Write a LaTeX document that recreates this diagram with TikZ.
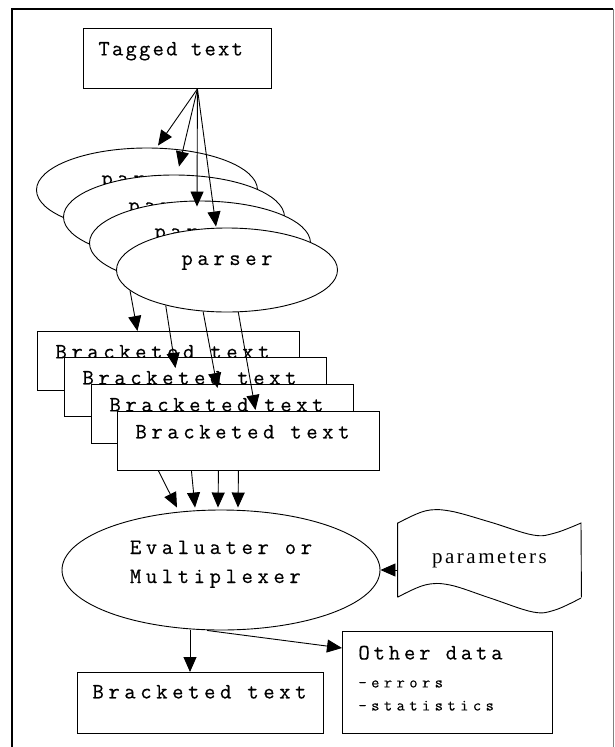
\documentclass[tikz,border=0pt]{standalone}
\usepackage{fontspec}
\newfontfamily\courfont[FakeBold=0.4]{Latin Modern Mono}
\newfontfamily\romfont{Liberation Serif}
\usetikzlibrary{shapes.geometric,arrows.meta,positioning,calc}

\begin{document}
\begin{tikzpicture}[x=1pt, y=-1pt, line width=0.9pt, >={Triangle[length=15pt,width=13pt]}]
\tikzstyle{parser}=[ellipse, draw, fill=white, minimum width=221pt, minimum height=84pt, inner sep=0pt,
  text height=10pt, text depth=20pt, font=\courfont\fontsize{22}{24}\selectfont\addfontfeature{LetterSpace=21}]
\tikzstyle{brbox}=[rectangle, draw, fill=white, anchor=north west, minimum height=59pt, inner xsep=18pt, inner ysep=0pt,
  text width=226pt, text badly ragged, text height=27pt, text depth=32pt, font=\courfont\fontsize{22}{24}\selectfont\addfontfeature{LetterSpace=21}]
\tikzstyle{tagbox}=[brbox, inner xsep=15pt, text width=158pt, text depth=33pt, font=\courfont\fontsize{22}{24}\selectfont\addfontfeature{LetterSpace=10}]
\newcommand\smallmono{\fontsize{16}{28}\selectfont\addfontfeature{LetterSpace=28}}

\useasboundingbox (0,0) rectangle (614,747);
% frame
\draw[line width=1.5pt] (12,747) -- (12,9) -- (613,9);
\draw[gray] (613,9) -- (613,747);

\node[tagbox] (tag) at (83,28) {Tagged text};

% stacked parsers
\node[parser] (p1) at (147,190) {parser};
\node[parser] (p2) at (174,217) {parser};
\node[parser] (p3) at (200,243) {parser};
\node[parser] (p4) at (227,270) {parser};

\path[->] ([xshift=20pt]tag.south)
    edge ([xshift=11pt,yshift=2pt]p1.north)
    edge ([xshift=5pt,yshift=8pt]p2.north)
    edge ([xshift=-3pt,yshift=-6pt]p3.north)
    edge ([xshift=-11pt,yshift=1pt]p4.north);

% bracketed texts
\node[brbox] (b1) at (37,331)  {Bracketed text};
\node[brbox] (b2) at (64,357)  {Bracketed text};
\node[brbox] (b3) at (91,384)  {Bracketed text};
\node[brbox] (b4) at (117,411) {Bracketed text};

\path[->] (p4.192) edge ([xshift=-31pt]b1.north);
\path[->] (p4.210) edge ([xshift=-20pt,yshift=-11pt]b2.north);
\path[->] (p4.240) edge ([xshift=-5pt,yshift=-4pt]b3.north);
\path[->] (p4.285) edge ([xshift=7pt,yshift=1pt]b4.north);

% evaluater
\node[ellipse, draw, minimum width=318pt, minimum height=120pt, inner sep=0pt, align=left,
  text height=43pt, text depth=17pt, font=\courfont\fontsize{22}{29}\selectfont\addfontfeature{LetterSpace=21}]
  (eval) at (221,570) {Evaluater or\\Multiplexer};

\path[->] ([xshift=-90pt]b4.south) edge ([xshift=-44pt,yshift=2pt]eval.north);
\path[->] ([xshift=-57pt]b4.south) edge ([xshift=-26pt,yshift=2pt]eval.north);
\path[->] ([xshift=-30pt]b4.south) edge ([xshift=-3pt,yshift=2pt]eval.north);
\path[->] ([xshift=-10pt]b4.south) edge ([xshift=17pt,yshift=2pt]eval.north);

% parameters
\node[minimum width=183pt, minimum height=74pt, inner sep=0pt, text height=10pt, text depth=4pt,
  font=\romfont\fontsize{21}{24}\selectfont\addfontfeature{LetterSpace=12}] (prm) at (489.5,560) {parameters};
\draw (prm.south west) -- (prm.north west)
  plot[smooth, tension=0.6] coordinates {(398,523) (425,511) (450,511) (490,522) (533,535) (555,533) (581,523)}
  -- (prm.south east)
  plot[smooth, tension=0.6] coordinates {(581,598) (555,610) (533,612) (490,598) (450,585) (425,585) (398,597)};

\path[->] ([yshift=-10pt]prm.west) edge (eval.east);

% outputs
\node[brbox, minimum height=61pt, inner xsep=15pt, text width=216pt, text height=26pt, text depth=35pt]
  (out) at (77,672) {Bracketed text};
\node[brbox, inner xsep=16pt, text width=178pt, text height=28pt, text depth=74pt,
  font=\courfont\fontsize{22}{28}\selectfont\addfontfeature{LetterSpace=17.5}]
  (other) at (342,631) {Other data\\{\smallmono -errors}\\[-5pt]{\smallmono -statistics}};

\path[->] ([xshift=-31pt]eval.south) edge ([xshift=-31pt]eval.south |- out.north);
\path[->] ([xshift=-14pt]eval.south) edge ([yshift=-17pt]other.north west);
\end{tikzpicture}
\end{document}
